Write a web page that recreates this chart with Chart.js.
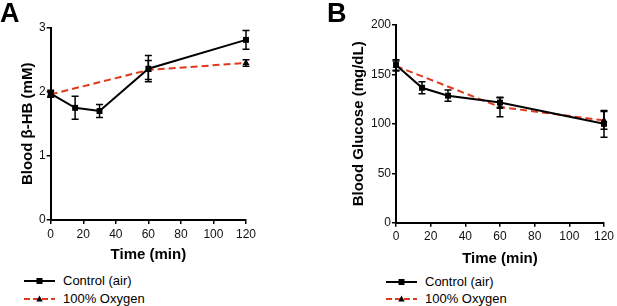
<!DOCTYPE html>
<html>
<head>
<meta charset="utf-8">
<script src="https://cdn.jsdelivr.net/npm/chart.js@4/dist/chart.umd.min.js"></script>
<style>
  html, body { margin: 0; padding: 0; background: #fff; }
  body { width: 617px; height: 306px; position: relative; overflow: hidden; font-family: "Liberation Sans", Arial, Helvetica, sans-serif; }
  .panel { position: absolute; top: 0; }
  .letter { position: absolute; font-weight: bold; font-size: 27px; line-height: 27px; color: #000; }
  .leg { position: absolute; font-size: 13px; line-height: 16px; color: #000; white-space: nowrap; }
  .leg svg { position: absolute; left: 0; top: 0; }
  .leg span { position: absolute; top: 0; }
</style>
</head>
<body>
<div class="panel" style="left:0;width:300px;height:270px;"><canvas id="chartA" width="300" height="270"></canvas></div>
<div class="panel" style="left:300px;width:317px;height:270px;"><canvas id="chartB" width="317" height="270"></canvas></div>
<div class="letter" style="left:0px;top:0px;">A</div>
<div class="letter" style="left:327px;top:0px;">B</div>

<div id="legA"></div>
<div id="legB"></div>

<script>
// ---- Data ----
const timeControl = [0, 15, 30, 60, 120];
const timeOxygen = [0, 60, 120];
const seriesNames = ["Control (air)", "100% Oxygen"];

const hbControl = [1.97, 1.75, 1.70, 2.36, 2.81];
const hbControlErr = [0.055, 0.18, 0.10, 0.205, 0.145];
const hbOxygen = [1.96, 2.34, 2.45];
const hbOxygenErr = [0.04, 0.15, 0.05];

const glucControl = [159.5, 136.5, 128.5, 121.5, 100];
const glucControlErr = [5.4, 6, 5.7, 5, 13.5];
const glucOxygen = [158.5, 117, 103.5];
const glucOxygenErr = [5, 9.8, 9];

const xTicksStep = 20;
const hbTickStep = 1;
const glucTickStep = 50;

const RED = 'rgb(224,58,30)';
const FONT = '"Liberation Sans", Arial, Helvetica, sans-serif';

function pts(xs, ys) { return xs.map((x, i) => ({ x: x, y: ys[i] })); }

const errorBars = {
  id: 'errorBars',
  afterDatasetsDraw(chart) {
    const ctx = chart.ctx;
    const xs = chart.scales.x, ys = chart.scales.y;
    chart.data.datasets.forEach((ds) => {
      if (!ds.errors) return;
      ctx.save();
      ctx.strokeStyle = '#000';
      ctx.lineWidth = 1.5;
      ds.data.forEach((p, j) => {
        const e = ds.errors[j];
        const x = xs.getPixelForValue(p.x);
        const y1 = ys.getPixelForValue(p.y + e);
        const y2 = ys.getPixelForValue(p.y - e);
        ctx.beginPath();
        ctx.moveTo(x, y1); ctx.lineTo(x, y2);
        ctx.moveTo(x - 3.5, y1); ctx.lineTo(x + 3.5, y1);
        ctx.moveTo(x - 3.5, y2); ctx.lineTo(x + 3.5, y2);
        ctx.stroke();
      });
      ctx.restore();
    });
  }
};

function makeChart(id, o) {
  return new Chart(document.getElementById(id), {
    type: 'line',
    data: {
      datasets: [
        {
          label: seriesNames[1],
          data: pts(timeOxygen, o.oxy),
          errors: o.oxyErr,
          borderColor: RED,
          borderWidth: 2,
          borderDash: [7, 4],
          pointStyle: 'triangle',
          pointRadius: 4,
          pointBackgroundColor: '#000',
          pointBorderColor: '#000',
          pointBorderWidth: 0,
          tension: 0,
          clip: false,
          order: 2
        },
        {
          label: seriesNames[0],
          data: pts(timeControl, o.ctrl),
          errors: o.ctrlErr,
          borderColor: '#000',
          borderWidth: 2,
          pointStyle: 'rect',
          pointRadius: 4.2,
          pointBackgroundColor: '#000',
          pointBorderColor: '#000',
          pointBorderWidth: 0,
          tension: 0,
          clip: false,
          order: 1
        }
      ]
    },
    options: {
      responsive: false,
      animation: false,
      events: [],
      layout: { padding: { left: o.padL, top: o.padT, right: o.padR, bottom: 0 } },
      plugins: { legend: { display: false }, tooltip: { enabled: false } },
      scales: {
        x: {
          type: 'linear', min: 0, max: 120,
          afterFit: (s) => { s.height = o.xH; },
          ticks: { stepSize: xTicksStep, color: '#111', font: { family: FONT, size: 12 }, padding: 3, maxRotation: 0 },
          grid: { drawOnChartArea: false, drawTicks: true, tickLength: 4, color: '#000', lineWidth: 1.5 },
          border: { display: true, color: '#000', width: 2 },
          title: { display: true, text: 'Time (min)', color: '#000', font: { family: FONT, size: 15, weight: 'bold' }, padding: { top: 0, bottom: o.xTitlePad } }
        },
        y: {
          type: 'linear', min: 0, max: o.yMax,
          afterFit: (s) => { s.width = o.yW; },
          ticks: { stepSize: o.yStep, color: '#111', font: { family: FONT, size: 12 }, padding: 1 },
          grid: { drawOnChartArea: false, drawTicks: true, tickLength: 4, color: '#000', lineWidth: 1.5 },
          border: { display: true, color: '#000', width: 2 },
          title: { display: true, text: o.yTitle, color: '#000', font: { family: FONT, size: 15, weight: 'bold' }, padding: { top: o.yTitlePad, bottom: 0 } }
        }
      }
    },
    plugins: [errorBars]
  });
}

makeChart('chartA', {
  ctrl: hbControl, ctrlErr: hbControlErr, oxy: hbOxygen, oxyErr: hbOxygenErr,
  yMax: 3, yStep: hbTickStep, yTitle: 'Blood \u03b2-HB (mM)',
  padL: 14, padT: 27.7, padR: 54, yW: 36.7, xH: 50, xTitlePad: 6, yTitlePad: 5
});
makeChart('chartB', {
  ctrl: glucControl, ctrlErr: glucControlErr, oxy: glucOxygen, oxyErr: glucOxygenErr,
  yMax: 200, yStep: glucTickStep, yTitle: 'Blood Glucose (mg/dL)',
  padL: 45, padT: 25, padR: 11, yW: 51, xH: 47.3, xTitlePad: 2, yTitlePad: 4.5
});

// ---- HTML legends ----
function buildLegend(el, left, lineX0, lineX1, textX, y0, y1) {
  const rows = [
    { name: seriesNames[0], y: y0, dash: '', color: '#000', marker: 'rect' },
    { name: seriesNames[1], y: y1, dash: '6 3', color: RED, marker: 'tri' }
  ];
  rows.forEach(r => {
    const d = document.createElement('div');
    d.className = 'leg';
    d.style.left = left + 'px';
    d.style.top = (r.y - 8) + 'px';
    d.style.width = '200px';
    d.style.height = '16px';
    const mx = (lineX0 + lineX1) / 2 - left;
    let marker = r.marker === 'rect'
      ? `<rect x="${mx - 3}" y="5" width="6" height="6" fill="#000"/>`
      : `<polygon points="${mx},4.5 ${mx + 3.2},10.5 ${mx - 3.2},10.5" fill="#000"/>`;
    d.innerHTML = `<svg width="${lineX1 - left + 2}" height="16"><line x1="${lineX0 - left}" y1="8" x2="${lineX1 - left}" y2="8" stroke="${r.color}" stroke-width="2" ${r.dash ? `stroke-dasharray="${r.dash}"` : ''}/>${marker}</svg><span style="left:${textX - left}px">${r.name}</span>`;
    el.appendChild(d);
  });
}
buildLegend(document.getElementById('legA'), 20, 24, 55, 63, 281, 299);
buildLegend(document.getElementById('legB'), 380, 386, 417, 425, 281.5, 299);
</script>
</body>
</html>
